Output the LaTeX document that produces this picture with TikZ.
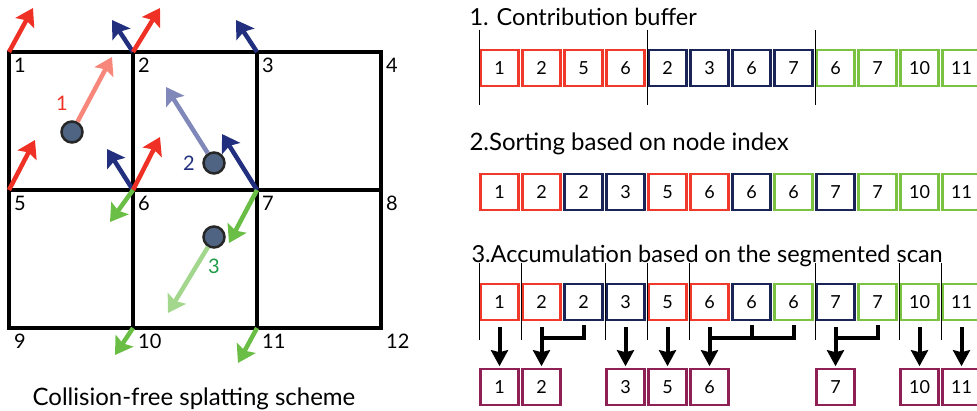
\documentclass[tikz,border=0pt]{standalone}
\usepackage{fontspec}
\setmainfont{Lato}
\usetikzlibrary{arrows.meta}

\definecolor{vred}{HTML}{EE3124}
\definecolor{vblue}{HTML}{222F7E}
\definecolor{vgreen}{HTML}{6BBE45}
\definecolor{lred}{HTML}{F6877A}
\definecolor{lblue}{HTML}{8088BA}
\definecolor{lgreen}{HTML}{A3D78E}
\definecolor{pfill}{HTML}{4E6482}
\definecolor{tgreen}{HTML}{1E9A48}
\definecolor{bred}{HTML}{F0392A}
\definecolor{bnavy}{HTML}{1B2456}
\definecolor{bgreen}{HTML}{7CC242}
\definecolor{bpurple}{HTML}{8E2056}

\begin{document}
\begin{tikzpicture}[x=1pt, y=-1pt,
	every node/.style={font=\fontsize{20}{23}\selectfont},
	gridline/.style={line width=4.5pt, line cap=rect},
	vec/.style={line width=4.5pt, -{Stealth[length=17pt, width=21pt, inset=3pt]}},
	particle/.style={circle, draw=black!85, line width=2.5pt, fill=pfill, minimum size=21pt, inner sep=0pt},
	cell/.style={draw, line width=2.6pt, minimum width=38pt, minimum height=36pt, inner sep=0pt, font=\fontsize{18}{21}\selectfont},
	segline/.style={line width=1.4pt},
	sumarrow/.style={line width=4pt, -{Stealth[length=16pt, width=17pt, inset=2pt]}, shorten >=1.5pt},
	bracket/.style={line width=4pt, line cap=rect}]
	\useasboundingbox (0,0) rectangle (977,410);

	% grid nodes, numbered row by row
	\foreach \row in {0,1,2}
		\foreach \col in {1,...,4} {
			\pgfmathtruncatemacro\idx{4*\row+\col}
			\coordinate (v\idx) at ({9+124*(\col-1)}, {52+138*\row});
			\node[anchor=north west, inner sep=0pt] (n\idx) at ([xshift=5pt, yshift=-6pt]v\idx) {\idx};
		}
	\draw[gridline] (v1) rectangle (v12);
	\draw[gridline] (v2) -- (v10) (v3) -- (v11) (v5) -- (v8);

	% contributions scattered to the cell corners
	\draw[vec, vblue] (v2) -- ++(-21,-32);
	\draw[vec, vblue] (v3) -- ++(-21,-32);
	\draw[vec, vblue] (v6) -- ++(-26,-41);
	\draw[vec, vblue] (v7) -- ++(-35,-56);
	\draw[vec, vred] (v1) -- ++(24,-44);
	\draw[vec, vred] (v2) -- ++(27,-44);
	\draw[vec, vred] (v5) -- ++(26,-50);
	\draw[vec, vred] (v6) -- ++(27,-53);
	\draw[vec, vgreen] (v6) -- ++(-23,32);
	\draw[vec, vgreen] (v7) -- ++(-28,53);
	\draw[vec, vgreen] (v10) -- ++(-18,27);
	\draw[vec, vgreen] (v11) -- ++(-19,35);

	% particles and their velocities
	\node[particle] (p1) at (72,132) {};
	\node[particle] (p2) at (214,163) {};
	\node[particle] (p3) at (214,237) {};
	\coordinate (t1) at (112,57);
	\coordinate (t2) at (166,87);
	\coordinate (t3) at (168,313);
	\draw[vec, lred] (p1) -- (t1);
	\draw[vec, lblue] (p2) -- (t2);
	\draw[vec, lgreen] (p3) -- (t3);
	\node[vred] (l1) at (62,103) {1};
	\node[vblue] (l2) at (189,163) {2};
	\node[tgreen] (l3) at (214,266) {3};

	\node[anchor=base, font=\fontsize{24}{27}\selectfont] (cap) at (194,405) {Collision-free splatting scheme};

	% step 1
	\node[anchor=base west, font=\fontsize{23.5}{26}\selectfont] (h1) at (466,25) {1. Contribution buffer};
	\foreach \v/\c [count=\i from 0] in {1/bred,2/bred,5/bred,6/bred,2/bnavy,3/bnavy,6/bnavy,7/bnavy,6/bgreen,7/bgreen,10/bgreen,11/bgreen}
		\node[cell, draw=\c] (c\i) at ({499.5+42*\i}, 68) {\v};
	\foreach \i in {0,4,8}
		\draw[segline] ([yshift=19pt]c\i.north west) -- ([yshift=-18pt]c\i.south west);

	% step 2
	\node[anchor=base west, font=\fontsize{24}{27}\selectfont] (h2) at (466,150) {2.Sorting based on node index};
	\foreach \v/\c [count=\i from 0] in {1/bred,2/bred,2/bnavy,3/bnavy,5/bred,6/bred,6/bnavy,6/bgreen,7/bnavy,7/bgreen,10/bgreen,11/bgreen}
		\node[cell, draw=\c] (s\i) at ({499.5+42*\i}, 192) {\v};

	% step 3
	\node[anchor=base west, font=\fontsize{23.5}{26}\selectfont] (h3) at (468,262) {3.Accumulation based on the segmented scan};
	\foreach \v/\c [count=\i from 0] in {1/bred,2/bred,2/bnavy,3/bnavy,5/bred,6/bred,6/bnavy,6/bgreen,7/bnavy,7/bgreen,10/bgreen,11/bgreen}
		\node[cell, draw=\c] (a\i) at ({499.5+42*\i}, 302) {\v};
	\foreach \i in {0,1,3,4,5,8,10,11}
		\draw[segline] ([yshift=20pt]a\i.north west) -- ([yshift=-19pt]a\i.south west);
	\foreach \v/\i in {1/0,2/1,3/3,5/4,6/5,7/8,10/10,11/11}
		\node[cell, draw=bpurple] (r\i) at ({499.5+42*\i}, 387) {\v};
	\foreach \i in {0,1,3,4,5,8,10,11}
		\draw[sumarrow] ([yshift=-6pt]a\i.south) -- (r\i.north);
	\draw[bracket] ([yshift=-6pt]a2.south) |- ([yshift=-17pt]a1.south);
	\draw[bracket] ([yshift=-6pt]a7.south) |- ([yshift=-17pt]a5.south);
	\draw[bracket] ([yshift=-6pt]a6.south) -- ([yshift=-17pt]a6.south);
	\draw[bracket] ([yshift=-6pt]a9.south) |- ([yshift=-17pt]a8.south);
\end{tikzpicture}
\end{document}
